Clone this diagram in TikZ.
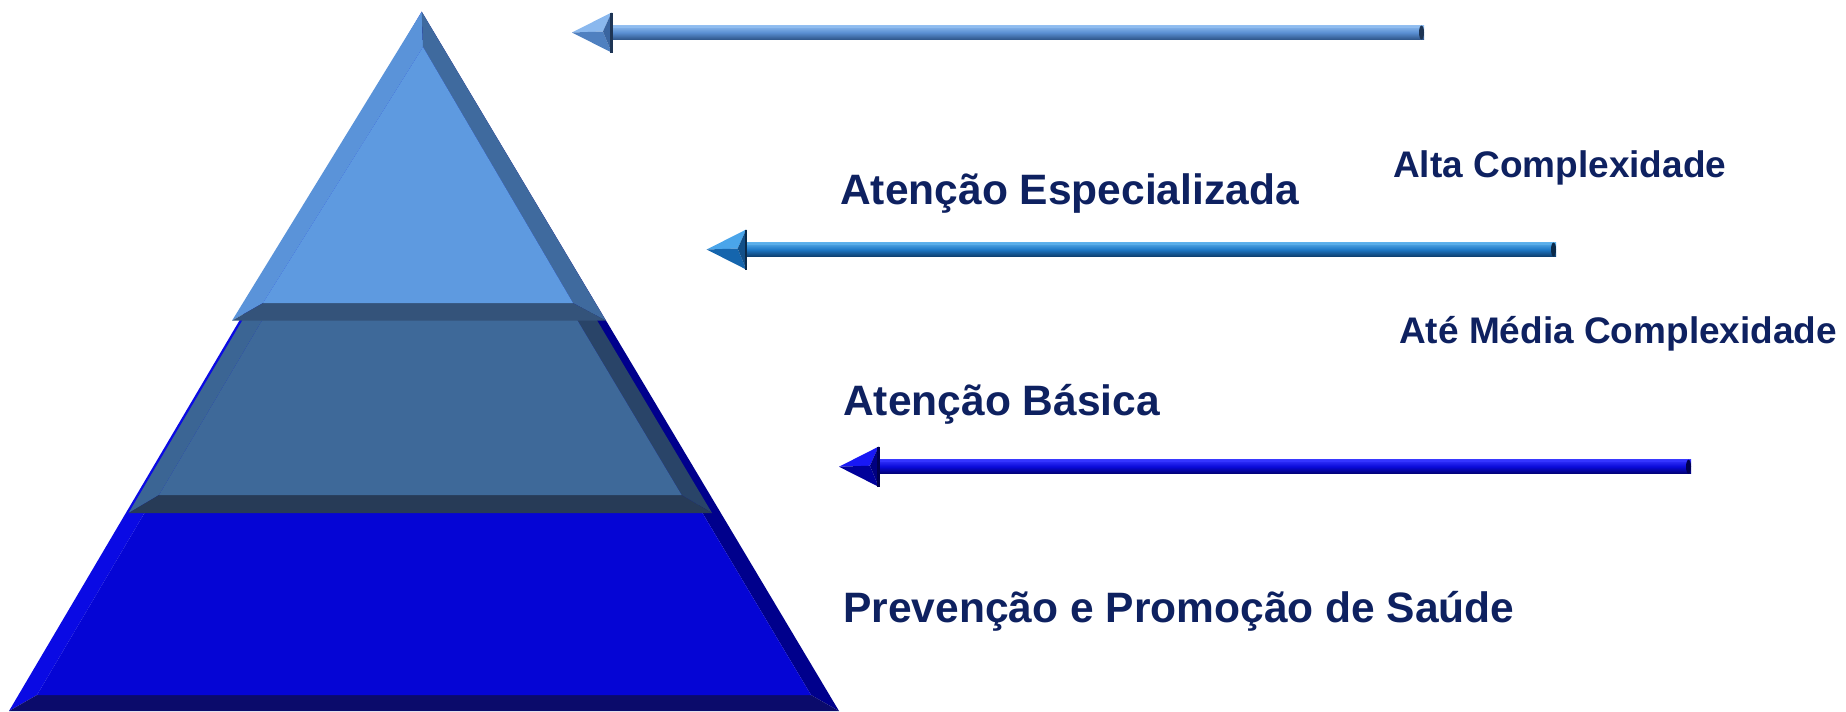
\documentclass[tikz,border=0pt]{standalone}
\usepackage{fontspec}
\setmainfont{Liberation Sans}
% pyramid colours
\definecolor{tF}{HTML}{5E9AE0}\definecolor{tLb}{HTML}{5A93D9}\definecolor{tRb}{HTML}{3F6A9E}\definecolor{tBb}{HTML}{34537A}
\definecolor{mF}{HTML}{3E6999}\definecolor{mLb}{HTML}{3B6594}\definecolor{mRb}{HTML}{294468}\definecolor{mBb}{HTML}{273B57}
\definecolor{bF}{HTML}{0505D5}\definecolor{bLb}{HTML}{0A0AE4}\definecolor{bRb}{HTML}{00008C}\definecolor{bBb}{HTML}{0B0B6B}
% arrow colours
\definecolor{aAlight}{HTML}{8FBCEF}\definecolor{aAmid}{HTML}{5A8FD3}\definecolor{aAdark}{HTML}{2F568A}
\definecolor{aAhu}{HTML}{8AB8EE}\definecolor{aAhl}{HTML}{4F80C0}\definecolor{aAhb}{HTML}{3A65A0}\definecolor{aAback}{HTML}{1E3555}
\definecolor{aBlight}{HTML}{5AAEEA}\definecolor{aBmid}{HTML}{1E78C6}\definecolor{aBdark}{HTML}{0D3E6E}
\definecolor{aBhu}{HTML}{4AA5EA}\definecolor{aBhl}{HTML}{1565AD}\definecolor{aBhb}{HTML}{124F88}\definecolor{aBback}{HTML}{0B2A4A}
\definecolor{aClight}{HTML}{3535FF}\definecolor{aCmid}{HTML}{0A0AD8}\definecolor{aCdark}{HTML}{000070}
\definecolor{aChu}{HTML}{1818F5}\definecolor{aChl}{HTML}{00009A}\definecolor{aChb}{HTML}{000080}\definecolor{aCback}{HTML}{000050}
\definecolor{txt}{HTML}{0E2160}
\newcommand\bevarrow[4]{%
  \coordinate (#4tip) at (#1,#2);
  \coordinate (#4end) at (#3,#2);
  \shade[top color=#4light, bottom color=#4dark, middle color=#4mid]
     ([shift={(36,-7)}]#4tip) rectangle ([shift={(0,7)}]#4end);
  \draw[#4light, line width=1.2] ([shift={(38,-5.6)}]#4tip) -- ([shift={(-2,-5.6)}]#4end);
  \fill[#4back] ([shift={(-2.5,0)}]#4end) ellipse (2.5 and 7);
  \coordinate (#4bt) at ([shift={(39.5,-20)}]#4tip);
  \coordinate (#4bb) at ([shift={(39.5,20)}]#4tip);
  \coordinate (#4in) at ([shift={(31,-1)}]#4tip);
  \fill[#4hu] (#4tip) -- (#4bt) -- (#4in) -- cycle;
  \fill[#4hl] (#4tip) -- (#4in) -- (#4bb) -- cycle;
  \fill[#4hb] (#4bt) -- (#4bb) -- (#4in) -- cycle;
  \draw[#4back, line width=1.6] (#4bt) -- (#4bb);
}
\tikzset{lbl/.style={anchor=base west, inner sep=0pt, text=txt, font=\bfseries\fontsize{31.9}{36}\selectfont},
  lbls/.style={lbl, font=\bfseries\fontsize{27.75}{32}\selectfont}}
\begin{document}
\begin{tikzpicture}[x=0.75pt,y=-0.75pt,line join=round]
\useasboundingbox (0,0) rectangle (1846,711);
% big (bottom) triangle
\coordinate (bA) at (421.7,11.7); \coordinate (bL) at (9,711); \coordinate (bR) at (839,711);
\coordinate (biA) at (422,43); \coordinate (biL) at (37,695); \coordinate (biR) at (811,695);
\fill[bLb] (bA)--(bL)--(biL)--(biA)--cycle;
\fill[bRb] (bA)--(bR)--(biR)--(biA)--cycle;
\fill[bBb] (bL)--(bR)--(biR)--(biL)--cycle;
\fill[bF] (biA)--(biL)--(biR)--cycle;
% middle tier
\coordinate (mTL) at (247.3,312); \coordinate (mTR) at (592,312);
\coordinate (mBL) at (128.6,513); \coordinate (mBR) at (712,513);
\coordinate (miTL) at (267,312); \coordinate (miTR) at (572.4,312);
\coordinate (miBL) at (159,495); \coordinate (miBR) at (681.6,495);
\fill[mLb] (mTL)--(mBL)--(miBL)--(miTL)--cycle;
\fill[mRb] (mTR)--(mBR)--(miBR)--(miTR)--cycle;
\fill[mBb] (mBL)--(mBR)--(miBR)--(miBL)--cycle;
\fill[mF] (miTL)--(miTR)--(miBR)--(miBL)--cycle;
% top tier
\coordinate (tA) at (421.7,11.7); \coordinate (tL) at (232,320.7); \coordinate (tR) at (606,320.7);
\coordinate (tiA) at (423,47); \coordinate (tiL) at (263,303); \coordinate (tiR) at (573,303);
\fill[tLb] (tA)--(tL)--(tiL)--(tiA)--cycle;
\fill[tRb] (tA)--(tR)--(tiR)--(tiA)--cycle;
\fill[tBb] (tL)--(tR)--(tiR)--(tiL)--cycle;
\fill[tF] (tiA)--(tiL)--(tiR)--cycle;
% arrows
\bevarrow{572}{32.5}{1424}{aA}
\bevarrow{706.7}{249.5}{1556}{aB}
\bevarrow{839}{466.7}{1691}{aC}
% labels
\node[lbl] (esp) at (840,204) {Atenção Especializada};
\node[lbls] (alta) at (1393,177) {Alta Complexidade};
\node[lbls] (media) at (1399,343) {Até Média Complexidade};
\node[lbl] (bas) at (843,415) {Atenção Básica};
\node[lbl] (prev) at (843,622) {Prevenção e Promoção de Saúde};
\end{tikzpicture}
\end{document}
